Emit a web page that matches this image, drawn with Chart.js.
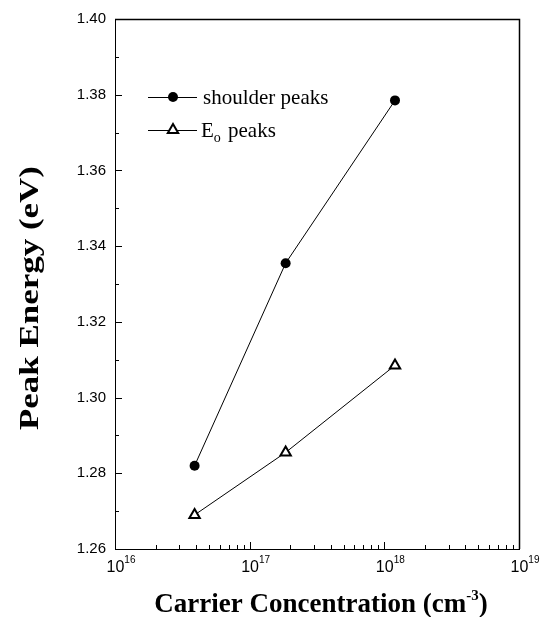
<!DOCTYPE html>
<html>
<head>
<meta charset="utf-8">
<script src="https://cdn.jsdelivr.net/npm/chart.js@4.4.1/dist/chart.umd.min.js"></script>
<style>
  html, body { margin: 0; padding: 0; background: #ffffff; }
  #wrap { width: 544px; height: 617px; }
</style>
</head>
<body>
<div id="wrap"><canvas id="peakChart"></canvas></div>
<script>
// ================================================================
//  DATA
// ================================================================
const carrierConc = [3.9e16, 1.85e17, 1.2e18];
const shoulderPeaks = [1.282, 1.3355, 1.3785];
const e0Peaks = [1.269, 1.2855, 1.3085];
const xDecades = [16, 17, 18, 19];
const yTicks = [1.26, 1.28, 1.30, 1.32, 1.34, 1.36, 1.38, 1.40];

const SERIF = "'Liberation Serif', 'Times New Roman', serif";
const SANS = "'Liberation Sans', Arial, sans-serif";

// ================================================================
//  DECORATION PLUGIN (inward ticks, labels, titles, legend)
// ================================================================
const decorPlugin = {
  id: 'decor',
  afterDraw(chart) {
    const ctx = chart.ctx;
    const xs = chart.scales.x, ys = chart.scales.y;
    const a = chart.chartArea;
    ctx.save();
    ctx.strokeStyle = '#000';

    // frame top + right (a bit heavier, like the scan)
    ctx.lineWidth = 1.5;
    ctx.beginPath();
    ctx.moveTo(a.left, a.top + 0.5); ctx.lineTo(a.right + 0.5, a.top + 0.5);
    ctx.lineTo(a.right + 0.5, a.bottom);
    ctx.stroke();
    ctx.lineWidth = 1;

    // y ticks (major + minor), inward
    ctx.beginPath();
    for (let i = 0; i < yTicks.length - 1; i++) {
      const yMaj = Math.round(ys.getPixelForValue(yTicks[i])) + 0.5;
      const yMin = Math.round(ys.getPixelForValue((yTicks[i] + yTicks[i + 1]) / 2)) + 0.5;
      ctx.moveTo(a.left, yMaj); ctx.lineTo(a.left + 7, yMaj);
      ctx.moveTo(a.left, yMin); ctx.lineTo(a.left + 4, yMin);
    }
    // x ticks (log), inward
    for (let d = 0; d < xDecades.length; d++) {
      const base = Math.pow(10, xDecades[d]);
      const px = Math.round(xs.getPixelForValue(base)) + 0.5;
      ctx.moveTo(px, a.bottom); ctx.lineTo(px, a.bottom - 7);
      if (d < xDecades.length - 1) {
        for (let m = 2; m < 10; m++) {
          const pm = Math.round(xs.getPixelForValue(base * m)) + 0.5;
          ctx.moveTo(pm, a.bottom); ctx.lineTo(pm, a.bottom - 4);
        }
      }
    }
    ctx.stroke();

    // x tick labels 10^n
    ctx.fillStyle = '#000';
    ctx.textBaseline = 'alphabetic';
    ctx.textAlign = 'left';
    xDecades.forEach(n => {
      const px = xs.getPixelForValue(Math.pow(10, n));
      ctx.font = '16px ' + SANS;
      const wBase = ctx.measureText('10').width;
      ctx.font = '10px ' + SANS;
      const wSup = ctx.measureText(String(n)).width;
      const x0 = px + 6 - (wBase + wSup) / 2;
      ctx.font = '16px ' + SANS;
      ctx.fillText('10', x0, a.bottom + 23);
      ctx.font = '10px ' + SANS;
      ctx.fillText(String(n), x0 + wBase, a.bottom + 14);
    });

    // x axis title with superscript
    ctx.font = 'bold 27px ' + SERIF;
    const tMain = 'Carrier Concentration (cm';
    const wMain = ctx.measureText(tMain).width;
    ctx.font = 'bold 15px ' + SERIF;
    const wSup = ctx.measureText('-3').width;
    ctx.font = 'bold 27px ' + SERIF;
    const wEnd = ctx.measureText(')').width;
    const tx = (a.left + a.right) / 2 + 4 - (wMain + wSup + wEnd) / 2;
    const ty = a.bottom + 63;
    ctx.fillText(tMain, tx, ty);
    ctx.font = 'bold 15px ' + SERIF;
    ctx.fillText('-3', tx + wMain, ty - 12);
    ctx.font = 'bold 27px ' + SERIF;
    ctx.fillText(')', tx + wMain + wSup, ty);

    // y axis title (stretched along its length, as in the scan)
    ctx.save();
    ctx.translate(31, 298);
    ctx.rotate(-Math.PI / 2);
    ctx.font = 'bold 28px ' + SERIF;
    const wY = ctx.measureText('Peak Energy (eV)').width;
    ctx.scale(264 / wY, 1);
    ctx.textAlign = 'center';
    ctx.textBaseline = 'middle';
    ctx.fillText('Peak Energy (eV)', 0, 0);
    ctx.restore();

    // legend
    const rows = [
      { y: 97, ds: chart.data.datasets[0] },
      { y: 130, ds: chart.data.datasets[1] }
    ];
    rows.forEach(r => {
      ctx.beginPath();
      ctx.lineWidth = 1;
      ctx.strokeStyle = '#000';
      ctx.moveTo(148, r.y + 0.5); ctx.lineTo(197, r.y + 0.5);
      ctx.stroke();
      ctx.fillStyle = r.ds.pointBackgroundColor;
      ctx.lineWidth = r.ds.pointBorderWidth;
      Chart.helpers.drawPoint(ctx, {
        pointStyle: r.ds.pointStyle, radius: r.ds.pointRadius,
        borderWidth: r.ds.pointBorderWidth, rotation: 0
      }, 173, r.y);
    });
    ctx.fillStyle = '#000';
    ctx.textAlign = 'left';
    ctx.textBaseline = 'alphabetic';
    ctx.font = '21px ' + SERIF;
    ctx.fillText('shoulder peaks', 203, 104);
    ctx.fillText('E', 201, 137);
    const wE = ctx.measureText('E').width;
    ctx.font = '14px ' + SERIF;
    ctx.fillText('o', 201 + wE, 142);
    ctx.font = '21px ' + SERIF;
    ctx.fillText('peaks', 228, 137);

    ctx.restore();
  }
};

// ================================================================
//  CHART
// ================================================================
new Chart(document.getElementById('peakChart').getContext('2d'), {
  type: 'line',
  data: {
    datasets: [
      {
        label: 'shoulder peaks',
        data: carrierConc.map((c, i) => ({ x: c, y: shoulderPeaks[i] })),
        borderColor: '#000', borderWidth: 1,
        pointStyle: 'circle', pointRadius: 5,
        pointBackgroundColor: '#000', pointBorderColor: '#000', pointBorderWidth: 0,
        tension: 0, fill: false
      },
      {
        label: 'Eo peaks',
        data: carrierConc.map((c, i) => ({ x: c, y: e0Peaks[i] })),
        borderColor: '#000', borderWidth: 1,
        pointStyle: 'triangle', pointRadius: 6,
        pointBackgroundColor: '#fff', pointBorderColor: '#000', pointBorderWidth: 2,
        tension: 0, fill: false
      }
    ]
  },
  options: {
    responsive: true, maintainAspectRatio: false, animation: false,
    layout: { padding: { top: 19, right: 25, left: 0, bottom: 0 } },
    plugins: { legend: { display: false }, tooltip: { enabled: false } },
    scales: {
      x: {
        type: 'logarithmic', min: 1e16, max: 1e19,
        grid: { display: false },
        border: { display: true, color: '#000', width: 1 },
        ticks: { display: false },
        afterFit: s => { s.height = 68; }
      },
      y: {
        min: 1.26, max: 1.40,
        grid: { display: false, drawTicks: false },
        border: { display: true, color: '#000', width: 1 },
        ticks: {
          stepSize: 0.02, padding: 9, color: '#000',
          font: { family: SANS, size: 15 },
          callback: v => v.toFixed(2)
        },
        afterFit: s => { s.width = 115; }
      }
    }
  },
  plugins: [decorPlugin]
});
</script>
</body>
</html>
